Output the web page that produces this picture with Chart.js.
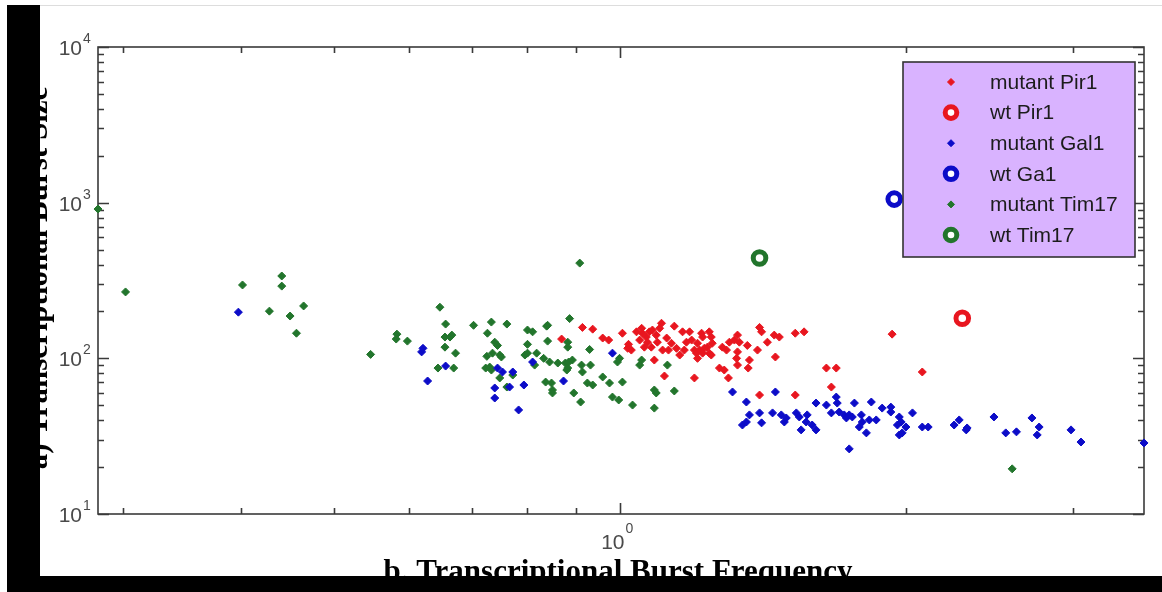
<!DOCTYPE html>
<html>
<head>
<meta charset="utf-8">
<title>Burst size x burst frequency</title>
<script src="https://cdn.jsdelivr.net/npm/chart.js@4.4.1/dist/chart.umd.min.js"></script>
<style>
  html, body { margin: 0; padding: 0; background: #fff; }
  #wrap { position: relative; width: 1162px; height: 592px; overflow: hidden; }
  #grafico { position: absolute; left: 0; top: 0; }
  .barra { position: absolute; background: #000; }
</style>
</head>
<body>
<div id="wrap">
  <canvas id="grafico" width="1162" height="592"></canvas>
  <div class="barra" style="left:7px;top:5px;width:33px;height:587px"></div>
  <div class="barra" style="left:7px;top:576px;width:1155px;height:16px"></div>
  <div style="position:absolute;left:40px;top:5px;width:1122px;height:1px;background:#ddd"></div>
</div>
<script>
// valores (frequencia, tamanho do burst)

const mutantPir1 = [
  [0.914,158],[0.937,154],[0.869,133],[0.960,135],[0.974,131],[1.007,145],[1.020,116],[1.022,123],
  [1.029,113],[1.042,148],[1.055,156],[1.057,145],[1.067,137],[1.075,148],[1.083,152],[1.093,141],
  [1.070,127],[1.080,118],[1.062,118],[1.050,131],[1.096,127],[1.088,97.5],[1.107,168],[1.115,77],
  [1.110,113],[1.126,113],[1.134,125],[1.148,116],[1.157,105],[1.176,127],[1.191,131],[1.199,113],
  [1.208,125],[1.142,161],[1.165,148],[1.185,148],[1.205,108],[1.214,113],[1.223,137],[1.220,145],
  [1.243,148],[1.249,137],[1.252,125],[1.237,118],[1.228,116],[1.208,100],[1.243,108],[1.283,118],
  [1.305,127],[1.321,131],[1.331,141],[1.337,127],[1.363,121],[1.331,110],[1.328,100],[1.331,90.5],
  [1.370,97.5],[1.366,86.6],[1.397,113],[1.404,158],[1.411,148],[1.431,127],[1.455,141],[1.473,137],
  [1.459,102],[1.531,145],[1.564,148],[1.274,86.6],[1.289,84.1],[1.302,74.8],[1.199,74.8],[1.404,58.1],
  [1.531,58.1],[1.651,86.6],[1.691,86.6],[1.671,65.4],[1.936,143],[2.083,81.7],[1.296,113],[1.249,105],
  [1.223,108],[1.102,156],[1.121,135],[1.170,113]
];
const wtPir1 = [[2.295,181]];

const mutantGal1 = [
  [0.397,198],[0.619,110],[0.621,116],[0.628,71.5],[0.656,89.2],[0.744,86.6],[0.753,81.7],[0.772,81.7],
  [0.739,64.5],[0.766,65.4],[0.739,55.6],[0.793,67.4],[0.783,46.6],[0.810,94.7],[0.873,71.5],[0.983,108],
  [1.315,60.8],[1.459,60.8],[1.360,52.4],[1.347,37.3],[1.360,39.0],[1.370,43.3],[1.404,44.6],[1.411,38.5],
  [1.449,44.6],[1.480,43.3],[1.491,39.0],[1.498,41.4],[1.535,44.6],[1.546,42.0],[1.553,34.7],[1.572,39.0],
  [1.576,43.3],[1.595,37.3],[1.610,34.7],[1.610,51.6],[1.651,50.1],[1.691,56.4],[1.695,51.6],[1.671,44.6],
  [1.703,45.2],[1.724,43.3],[1.745,43.3],[1.733,41.4],[1.758,42.0],[1.767,51.6],[1.797,43.3],[1.801,39.0],
  [1.788,36.2],[1.819,33.2],[1.841,52.4],[1.832,40.2],[1.863,40.2],[1.745,26.2],[1.890,47.9],[1.930,48.6],
  [1.930,45.2],[1.970,42.0],[1.979,39.0],[1.961,37.3],[1.970,32.2],[2.002,36.2],[1.984,33.2],[2.034,44.6],
  [2.083,36.2],[2.113,36.2],[2.250,37.3],[2.278,40.2],[2.317,34.7],[2.322,35.7],[2.478,42.0],[2.550,33.2],
  [2.617,33.7],[2.717,41.4],[2.765,36.2],[2.752,32.2],[2.987,34.7],[3.060,29.0],[3.565,28.6]
];
const wtGa1 = [[1.946,1054]];

const mutantTim17 = [
  [0.2825,910],[0.302,267],[0.401,296],[0.441,338],[0.441,291],[0.428,201],[0.450,187],[0.465,217],
  [0.457,145],[0.547,106],[0.583,143],[0.582,133],[0.598,129],[0.647,213],[0.656,166],[0.655,137],
  [0.663,137],[0.666,141],[0.655,118],[0.672,108],[0.644,86.6],[0.669,86.6],[0.702,163],[0.733,171],
  [0.761,166],[0.726,145],[0.739,127],[0.744,121],[0.725,103],[0.735,108],[0.748,105],[0.751,102],
  [0.723,86.6],[0.730,87.9],[0.733,84.1],[0.772,78.1],[0.748,74.8],[0.761,65.4],[0.800,152],[0.810,148],
  [0.800,123],[0.795,105],[0.800,108],[0.818,108],[0.814,90.5],[0.840,163],[0.840,129],[0.832,100],
  [0.844,94.7],[0.836,70.4],[0.848,69.4],[0.850,62.6],[0.850,59.9],[0.861,93.3],[0.877,93.3],[0.884,94.7],
  [0.892,97.5],[0.880,84.1],[0.882,86.6],[0.886,180],[0.838,161],[0.882,127],[0.882,118],[0.895,59.9],
  [0.912,90.5],[0.914,81.7],[0.910,52.4],[0.930,114],[0.932,90.5],[0.925,69.4],[0.937,67.4],[0.960,75.9],
  [0.976,69.4],[0.983,56.4],[0.998,54.0],[1.000,100],[0.995,94.7],[1.007,70.4],[1.032,50.1],[1.055,97.5],
  [1.050,90.5],[1.088,62.6],[1.093,59.9],[1.088,47.9],[1.123,90.5],[1.142,61.7],[0.908,409],[2.590,19.5]
];
const wtTim17 = [[1.404,441]];

const legendas = ["mutant Pir1", "wt Pir1", "mutant Gal1", "wt Ga1", "mutant Tim17", "wt Tim17"];

// eixos
const xLimites = [0.2825, 3.565];
const yLimites = [10, 10000];
const xTicks = [0.3, 0.4, 0.5, 0.6, 0.7, 0.8, 0.9, 1, 2, 3];
const xTicksMaiores = [1];
const yTicks = [10,20,30,40,50,60,70,80,90,100,200,300,400,500,600,700,800,900,
                1000,2000,3000,4000,5000,6000,7000,8000,9000,10000];
const yTicksMaiores = [10, 100, 1000, 10000];
const tituloX = "b. Transcriptional Burst Frequency";
const tituloY = "a) Transcriptional Burst Size";

const VERMELHO = "#e8161f";
const AZUL = "#0c0cc8";
const VERDE = "#22752c";

function pontos(lista) {
  return lista.map(p => ({ x: p[0], y: p[1] }));
}

function serieMutante(label, dados, cor) {
  return {
    label, data: pontos(dados), pointStyle: 'rectRot', pointRadius: 4, borderWidth: 1,
    backgroundColor: cor, borderColor: cor, clip: false, order: 2
  };
}

function serieWt(label, dados, cor) {
  return {
    label, data: pontos(dados), pointStyle: 'circle', pointRadius: 6.3, borderWidth: 5,
    backgroundColor: '#fff', borderColor: cor, clip: false, order: 1
  };
}

// desenha a caixa estilo MATLAB, ticks para dentro, rotulos e titulos
const eixosMatlab = {
  id: 'eixosMatlab',
  beforeDatasetsDraw(chart) {
    const { ctx, chartArea: a, scales: { x, y } } = chart;
    ctx.save();
    ctx.strokeStyle = '#3a3a3a';
    ctx.lineWidth = 1.6;
    ctx.strokeRect(a.left, a.top, a.right - a.left, a.bottom - a.top);
    ctx.beginPath();
    xTicks.forEach(v => {
      const px = Math.round(x.getPixelForValue(v)) + 0.5;
      const len = xTicksMaiores.includes(v) ? 11 : 6;
      ctx.moveTo(px, a.bottom); ctx.lineTo(px, a.bottom - len);
      ctx.moveTo(px, a.top); ctx.lineTo(px, a.top + len);
    });
    yTicks.forEach(v => {
      const py = Math.round(y.getPixelForValue(v)) + 0.5;
      const len = yTicksMaiores.includes(v) ? 11 : 6;
      ctx.moveTo(a.left, py); ctx.lineTo(a.left + len, py);
      ctx.moveTo(a.right, py); ctx.lineTo(a.right - len, py);
    });
    ctx.stroke();
    ctx.restore();
  },
  afterDraw(chart) {
    const { ctx, chartArea: a, scales: { x, y } } = chart;
    ctx.save();
    ctx.fillStyle = '#4a4a4a';
    // rotulos do eixo y: 10^n
    yTicksMaiores.forEach(v => {
      const py = y.getPixelForValue(v);
      const exp = String(Math.round(Math.log10(v)));
      ctx.font = '21px "Liberation Sans", Arial, sans-serif';
      ctx.textAlign = 'right'; ctx.textBaseline = 'alphabetic';
      ctx.fillText('10', a.left - 16, py + 8);
      ctx.font = '14px "Liberation Sans", Arial, sans-serif';
      ctx.textAlign = 'left';
      ctx.fillText(exp, a.left - 15, py - 4);
    });
    // rotulo do eixo x
    xTicksMaiores.forEach(v => {
      const px = x.getPixelForValue(v);
      const exp = String(Math.round(Math.log10(v)));
      ctx.font = '21px "Liberation Sans", Arial, sans-serif';
      ctx.textAlign = 'right'; ctx.textBaseline = 'alphabetic';
      ctx.fillText('10', px + 5, a.bottom + 35);
      ctx.font = '14px "Liberation Sans", Arial, sans-serif';
      ctx.textAlign = 'left';
      ctx.fillText(exp, px + 6, a.bottom + 19);
    });

    // titulos
    ctx.fillStyle = '#000';
    ctx.font = 'bold 31px "Liberation Serif", "Times New Roman", serif';
    ctx.textAlign = 'center';
    ctx.fillText(tituloX, 618, 581);
    ctx.save();
    ctx.translate(47, 278);
    ctx.rotate(-Math.PI / 2);
    ctx.fillText(tituloY, 0, 0);
    ctx.restore();

    // legenda
    const lx = 903, ly = 62, lw = 232, lh = 195;
    ctx.fillStyle = '#d9b3ff';
    ctx.fillRect(lx, ly, lw, lh);
    ctx.strokeStyle = '#333';
    ctx.lineWidth = 1.6;
    ctx.strokeRect(lx, ly, lw, lh);
    chart.data.datasets.forEach((ds, i) => {
      const cy = ly + 20 + i * 30.6;
      ctx.fillStyle = ds.backgroundColor;
      ctx.strokeStyle = ds.borderColor;
      ctx.lineWidth = ds.borderWidth;
      Chart.helpers.drawPoint(ctx, {
        pointStyle: ds.pointStyle, radius: ds.pointStyle === 'circle' ? 5.8 : 3.5,
        borderWidth: ds.borderWidth, rotation: 0
      }, 951, cy);
      ctx.fillStyle = '#1c1c1c';
      ctx.font = '21px "Liberation Sans", Arial, sans-serif';
      ctx.textAlign = 'left'; ctx.textBaseline = 'middle';
      ctx.fillText(legendas[i], 990, cy + 1);
    });
    ctx.restore();
  }
};

const canvas = document.getElementById('grafico');
new Chart(canvas, {
  type: 'scatter',
  data: {
    datasets: [
      serieMutante(legendas[0], mutantPir1, VERMELHO),
      serieWt(legendas[1], wtPir1, VERMELHO),
      serieMutante(legendas[2], mutantGal1, AZUL),
      serieWt(legendas[3], wtGa1, AZUL),
      serieMutante(legendas[4], mutantTim17, VERDE),
      serieWt(legendas[5], wtTim17, VERDE)
    ]
  },
  options: {
    responsive: false,
    animation: false,
    layout: { padding: { left: 98, right: 18, top: 47, bottom: 78 } },
    plugins: { legend: { display: false }, tooltip: { enabled: false } },
    scales: {
      x: { type: 'logarithmic', min: xLimites[0], max: xLimites[1], display: false },
      y: { type: 'logarithmic', min: yLimites[0], max: yLimites[1], display: false }
    }
  },
  plugins: [eixosMatlab]
});
</script>
</body>
</html>
